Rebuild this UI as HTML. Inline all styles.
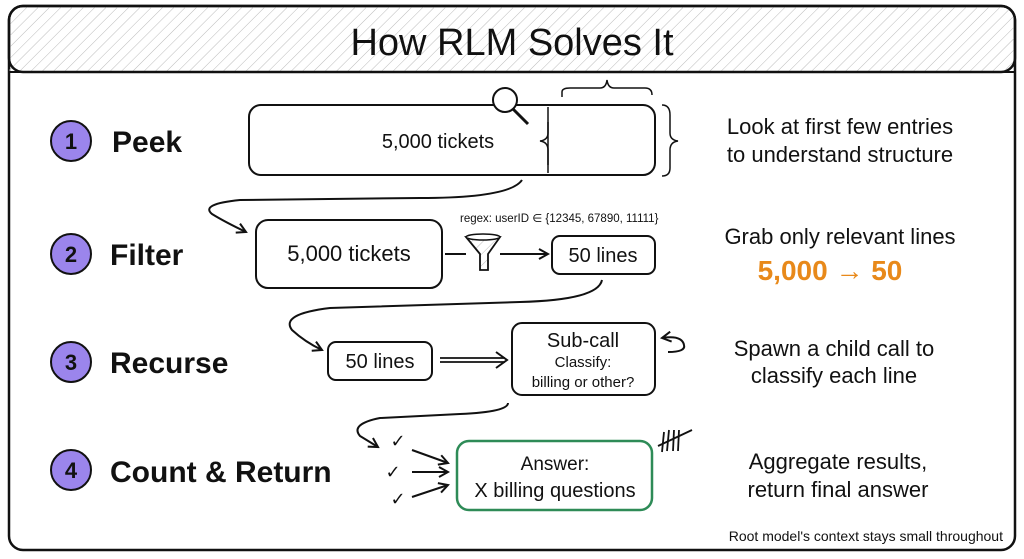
<!DOCTYPE html>
<html><head><meta charset="utf-8"><style>
html,body{margin:0;padding:0;background:#fff;}
svg{display:block;}
text{font-family:"Liberation Sans","DejaVu Sans",sans-serif;fill:#111;}
</style></head><body>
<svg width="1024" height="559" viewBox="0 0 1024 559" xmlns="http://www.w3.org/2000/svg">
<defs>
<pattern id="h" width="8" height="8" patternUnits="userSpaceOnUse" patternTransform="rotate(45)">
<line x1="0" y1="0" x2="0" y2="8" stroke="#bbb" stroke-width="1"/>
</pattern>
<marker id="a" markerWidth="12" markerHeight="12" refX="10" refY="6" orient="auto" markerUnits="userSpaceOnUse">
<path d="M1,1 L10,6 L1,11" fill="none" stroke="#111" stroke-width="2"/>
</marker>
</defs>
<rect x="0" y="0" width="1024" height="559" fill="#fff"/>
<rect x="9" y="6" width="1006" height="544" rx="14" fill="none" stroke="#111" stroke-width="2.5"/>
<path d="M9,72 L9,20 Q9,6 23,6 L1001,6 Q1015,6 1015,20 L1015,72 Z" fill="url(#h)"/>
<path d="M9,72 L1015,72" fill="none" stroke="#111" stroke-width="2"/>
<rect x="9" y="6" width="1006" height="66" rx="14" fill="none" stroke="#111" stroke-width="2.5"/>
<text x="512" y="55" font-size="38" text-anchor="middle">How RLM Solves It</text>

<g stroke="#111" stroke-width="2" fill="#9b85ec">
<circle cx="71" cy="141" r="20"/><circle cx="71" cy="254" r="20"/>
<circle cx="71" cy="362" r="20"/><circle cx="71" cy="470" r="20"/>
</g>
<g font-size="22" font-weight="bold" text-anchor="middle">
<text x="71" y="149">1</text><text x="71" y="262">2</text><text x="71" y="370">3</text><text x="71" y="478">4</text>
</g>
<g font-size="30" font-weight="bold">
<text x="112" y="152">Peek</text><text x="110" y="265">Filter</text>
<text x="110" y="373">Recurse</text><text x="110" y="482">Count &amp; Return</text>
</g>

<rect x="249" y="105" width="406" height="70" rx="12" fill="none" stroke="#111" stroke-width="2"/>
<path d="M548,107 L548,173" stroke="#111" stroke-width="1.5"/>
<text x="438" y="148" font-size="20" text-anchor="middle">5,000 tickets</text>
<path d="M562,97 L562,92 Q562,88 570,88 L600,88 Q606,88 607,80 Q608,88 614,88 L645,88 Q652,88 652,95" fill="none" stroke="#111" stroke-width="1.5"/>
<path d="M548,122 L548,133 Q548,140 540,141 Q548,142 548,150 L548,165" fill="none" stroke="#111" stroke-width="1.5"/>
<path d="M662,105 Q670,105 670,115 L670,133 Q670,140 678,141 Q670,142 670,150 L670,168 Q670,176 662,176" fill="none" stroke="#111" stroke-width="1.5"/>
<circle cx="505" cy="100" r="12" fill="#fff" stroke="#111" stroke-width="2"/>
<line x1="513" y1="109" x2="528" y2="124" stroke="#111" stroke-width="3"/>
<text x="840" y="134" font-size="22" text-anchor="middle">Look at first few entries</text>
<text x="840" y="162" font-size="22" text-anchor="middle">to understand structure</text>

<path d="M522,180 Q510,198 420,198 L240,200 Q200,204 212,214 Q225,222 246,232" fill="none" stroke="#111" stroke-width="2" marker-end="url(#a)"/>

<rect x="256" y="220" width="186" height="68" rx="12" fill="none" stroke="#111" stroke-width="2"/>
<text x="349" y="261" font-size="22" text-anchor="middle">5,000 tickets</text>
<line x1="445" y1="254" x2="466" y2="254" stroke="#111" stroke-width="2"/>
<path d="M466,237 L500,237 L488,254 L488,270 L480,270 L480,254 Z" fill="url(#h)" stroke="#111" stroke-width="1.8"/>
<ellipse cx="483" cy="237" rx="17" ry="3" fill="#fff" stroke="#111" stroke-width="1.5"/>
<line x1="500" y1="254" x2="548" y2="254" stroke="#111" stroke-width="2" marker-end="url(#a)"/>
<text x="460" y="222" font-size="11.5" font-family="Liberation Mono, monospace">regex: userID ∈ {12345, 67890, 11111}</text>
<rect x="552" y="236" width="103" height="38" rx="8" fill="none" stroke="#111" stroke-width="2"/>
<text x="603" y="262" font-size="20" text-anchor="middle">50 lines</text>
<text x="840" y="244" font-size="22" text-anchor="middle">Grab only relevant lines</text>
<text x="830" y="280" font-size="28" font-weight="bold" text-anchor="middle" style="fill:#e8891a">5,000 → 50</text>

<path d="M602,280 Q598,300 520,302 L330,308 Q280,314 292,330 Q305,342 322,350" fill="none" stroke="#111" stroke-width="2" marker-end="url(#a)"/>

<rect x="328" y="342" width="104" height="38" rx="8" fill="none" stroke="#111" stroke-width="2"/>
<text x="380" y="368" font-size="20" text-anchor="middle">50 lines</text>
<path d="M440,358 L505,358 M440,362 L505,362" stroke="#111" stroke-width="1.8"/>
<path d="M496,352 L507,360 L496,368" fill="none" stroke="#111" stroke-width="2"/>
<rect x="512" y="323" width="143" height="72" rx="10" fill="none" stroke="#111" stroke-width="2"/>
<text x="583" y="347" font-size="20" text-anchor="middle">Sub-call</text>
<text x="583" y="367" font-size="15" text-anchor="middle">Classify:</text>
<text x="583" y="387" font-size="15" text-anchor="middle">billing or other?</text>
<path d="M668,352 Q686,352 684,345 Q682,335 662,338" fill="none" stroke="#111" stroke-width="2" marker-end="url(#a)"/>
<text x="834" y="356" font-size="22" text-anchor="middle">Spawn a child call to</text>
<text x="834" y="383" font-size="22" text-anchor="middle">classify each line</text>

<path d="M508,403 Q508,412 460,414 L380,418 Q350,424 360,436 L378,447" fill="none" stroke="#111" stroke-width="2" marker-end="url(#a)"/>

<g font-size="18" text-anchor="middle"><text x="398" y="447">✓</text><text x="393" y="478">✓</text><text x="398" y="505">✓</text></g>
<line x1="412" y1="450" x2="448" y2="463" stroke="#111" stroke-width="2" marker-end="url(#a)"/>
<line x1="412" y1="472" x2="448" y2="472" stroke="#111" stroke-width="2" marker-end="url(#a)"/>
<line x1="412" y1="497" x2="448" y2="485" stroke="#111" stroke-width="2" marker-end="url(#a)"/>
<rect x="457" y="441" width="195" height="69" rx="12" fill="none" stroke="#2e8b57" stroke-width="2.5"/>
<text x="555" y="470" font-size="19" text-anchor="middle">Answer:</text>
<text x="555" y="497" font-size="20" text-anchor="middle">X billing questions</text>
<g stroke="#111" stroke-width="1.8"><line x1="664" y1="432" x2="662" y2="452"/><line x1="669" y1="430" x2="667" y2="451"/><line x1="674" y1="430" x2="673" y2="451"/><line x1="679" y1="430" x2="678" y2="451"/><line x1="658" y1="446" x2="692" y2="430"/></g>
<text x="838" y="469" font-size="22" text-anchor="middle">Aggregate results,</text>
<text x="838" y="497" font-size="22" text-anchor="middle">return final answer</text>
<text x="1003" y="541" font-size="14" text-anchor="end">Root model's context stays small throughout</text>
</svg>
</body></html>
